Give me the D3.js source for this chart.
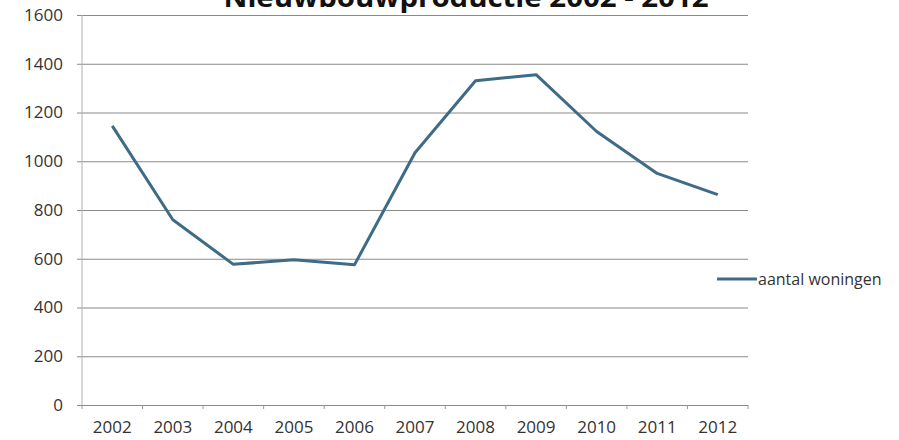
<!DOCTYPE html>
<html>
<head>
<meta charset="utf-8">
<script src="https://cdn.jsdelivr.net/npm/d3@7"></script>
<style>
  body { margin: 0; background: #fff; }
  text { font-family: "Open Sans", sans-serif; fill: #333; }
</style>
</head>
<body>
<div id="chart"></div>
<script>
// chart data
const years = ['2002', '2003', '2004', '2005', '2006', '2007', '2008', '2009', '2010', '2011', '2012'];
const woningen = [1145, 760, 577, 596, 575, 1035, 1330, 1355, 1122, 950, 863];
const yTicks = [0, 200, 400, 600, 800, 1000, 1200, 1400, 1600];
const seriesName = 'aantal woningen';
const title = 'Nieuwbouwproductie 2002 - 2012';

const width = 899, height = 440;
const margin = { top: 15, right: 151, bottom: 35, left: 82 };
const innerW = width - margin.left - margin.right;
const innerH = height - margin.top - margin.bottom;

const svg = d3.select('#chart').append('svg')
  .attr('width', width)
  .attr('height', height);

// title is clipped by the top edge in the original scan
svg.append('text')
  .attr('x', 466)
  .attr('y', 7)
  .attr('text-anchor', 'middle')
  .style('font-size', '27px')
  .style('font-weight', 'bold')
  .style('fill', '#111')
  .attr('textLength', 485)
  .attr('lengthAdjust', 'spacingAndGlyphs')
  .text(title);

const chart = svg.append('g')
  .attr('transform', `translate(${margin.left},${margin.top})`);

const x = d3.scaleBand().domain(years).range([0, innerW]);
const y = d3.scaleLinear().domain([0, 1600]).range([innerH, 0]);

// y axis with gridlines
const yAxis = chart.append('g')
  .call(d3.axisLeft(y).tickValues(yTicks).tickFormat(d3.format('d')).tickSize(-innerW));
yAxis.select('.domain').remove();
yAxis.selectAll('.tick line')
  .attr('x1', -5)
  .attr('stroke', '#8a8a8a')
  .attr('stroke-width', 1);
yAxis.selectAll('.tick text')
  .style('font-size', '17px')
  .attr('x', -19);

// vertical axis line
chart.append('line')
  .attr('x1', 0).attr('x2', 0)
  .attr('y1', 0).attr('y2', innerH)
  .attr('stroke', '#b0b0b0');

// x axis: labels centred in bands, ticks on band edges
const xAxis = chart.append('g')
  .attr('transform', `translate(0,${innerH})`)
  .call(d3.axisBottom(x).tickSize(0).tickPadding(16));
xAxis.select('.domain').remove();
xAxis.selectAll('.tick text').style('font-size', '17px');

const edges = years.map(d => x(d)).concat([x.range()[1]]);
chart.append('g')
  .selectAll('line')
  .data(edges)
  .join('line')
  .attr('x1', d => d).attr('x2', d => d)
  .attr('y1', innerH).attr('y2', innerH + 4)
  .attr('stroke', '#9a9a9a');

// series line
const line = d3.line()
  .x((d, i) => x(years[i]) + x.bandwidth() / 2)
  .y(d => y(d));

chart.append('path')
  .datum(woningen)
  .attr('fill', 'none')
  .attr('stroke', '#3e6b85')
  .attr('stroke-width', 3)
  .attr('stroke-linejoin', 'round')
  .attr('d', line);

// legend
const legend = svg.append('g')
  .attr('transform', 'translate(717,279)');
legend.append('line')
  .attr('x1', 0).attr('x2', 40)
  .attr('stroke', '#3e6b85')
  .attr('stroke-width', 3);
legend.append('text')
  .attr('x', 41)
  .attr('dy', '0.35em')
  .style('font-size', '16px')
  .text(seriesName);
</script>
</body>
</html>
